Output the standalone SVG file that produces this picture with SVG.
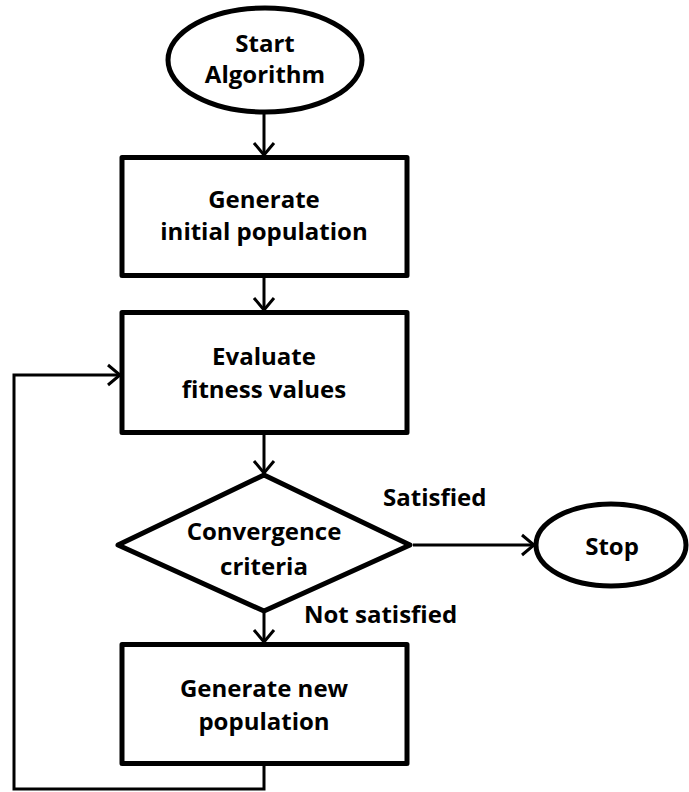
<svg xmlns="http://www.w3.org/2000/svg" width="689" height="792" viewBox="0 0 689 792">
  <style>
    .shape { fill: #ffffff; stroke: #000000; stroke-width: 5; stroke-linejoin: round; }
    .wire { fill: none; stroke: #000000; stroke-width: 3; }
    .label { font-family: "Open Sans", "Noto Sans", "Liberation Sans", sans-serif; font-weight: bold; font-size: 24px; fill: #000000; text-anchor: middle; }
    .side { text-anchor: start; }
  </style>
  <defs>
    <marker id="arrow" markerUnits="userSpaceOnUse" markerWidth="16" markerHeight="24" refX="14" refY="12" orient="auto" viewBox="0 0 16 24">
      <path d="M2,2 L14,12 L2,22" fill="none" stroke="#000000" stroke-width="3" stroke-linejoin="miter"/>
    </marker>
  </defs>
  <rect width="689" height="792" fill="#ffffff"/>

  <!-- connectors -->
  <g id="connectors">
    <line class="wire" x1="264" y1="113" x2="264" y2="155" marker-end="url(#arrow)"/>
    <line class="wire" x1="264" y1="278" x2="264" y2="310" marker-end="url(#arrow)"/>
    <line class="wire" x1="264" y1="435" x2="264" y2="473" marker-end="url(#arrow)"/>
    <line class="wire" x1="413" y1="545" x2="534" y2="545" marker-end="url(#arrow)"/>
    <line class="wire" x1="264" y1="613" x2="264" y2="642" marker-end="url(#arrow)"/>
    <polyline class="wire" points="264,766 264,789 14,789 14,375 120,375" marker-end="url(#arrow)"/>
  </g>

  <g id="start">
    <ellipse class="shape" cx="265" cy="60" rx="97" ry="52" stroke-width="4.5"/>
    <text class="label" x="265" y="52">Start</text>
    <text class="label" x="265" y="83">Algorithm</text>
  </g>

  <g id="init-population">
    <rect class="shape" x="122" y="157.5" width="285" height="118"/>
    <text class="label" x="264" y="208">Generate</text>
    <text class="label" x="264" y="240">initial population</text>
  </g>

  <g id="evaluate">
    <rect class="shape" x="122" y="312.5" width="285" height="120"/>
    <text class="label" x="264" y="365">Evaluate</text>
    <text class="label" x="264" y="398">fitness values</text>
  </g>

  <g id="convergence">
    <polygon class="shape" points="118,545 264,475 410,545 264,611"/>
    <text class="label" x="264" y="540">Convergence</text>
    <text class="label" x="264" y="575">criteria</text>
  </g>

  <g id="stop">
    <ellipse class="shape" cx="611" cy="545" rx="75" ry="41" stroke-width="4.5"/>
    <text class="label" x="612" y="555">Stop</text>
  </g>

  <g id="new-population">
    <rect class="shape" x="122" y="644.5" width="285" height="119"/>
    <text class="label" x="264" y="697">Generate new</text>
    <text class="label" x="264" y="730">population</text>
  </g>

  <g id="branch-labels">
    <text class="label side" x="383" y="506">Satisfied</text>
    <text class="label side" x="304" y="623">Not satisfied</text>
  </g>
</svg>
